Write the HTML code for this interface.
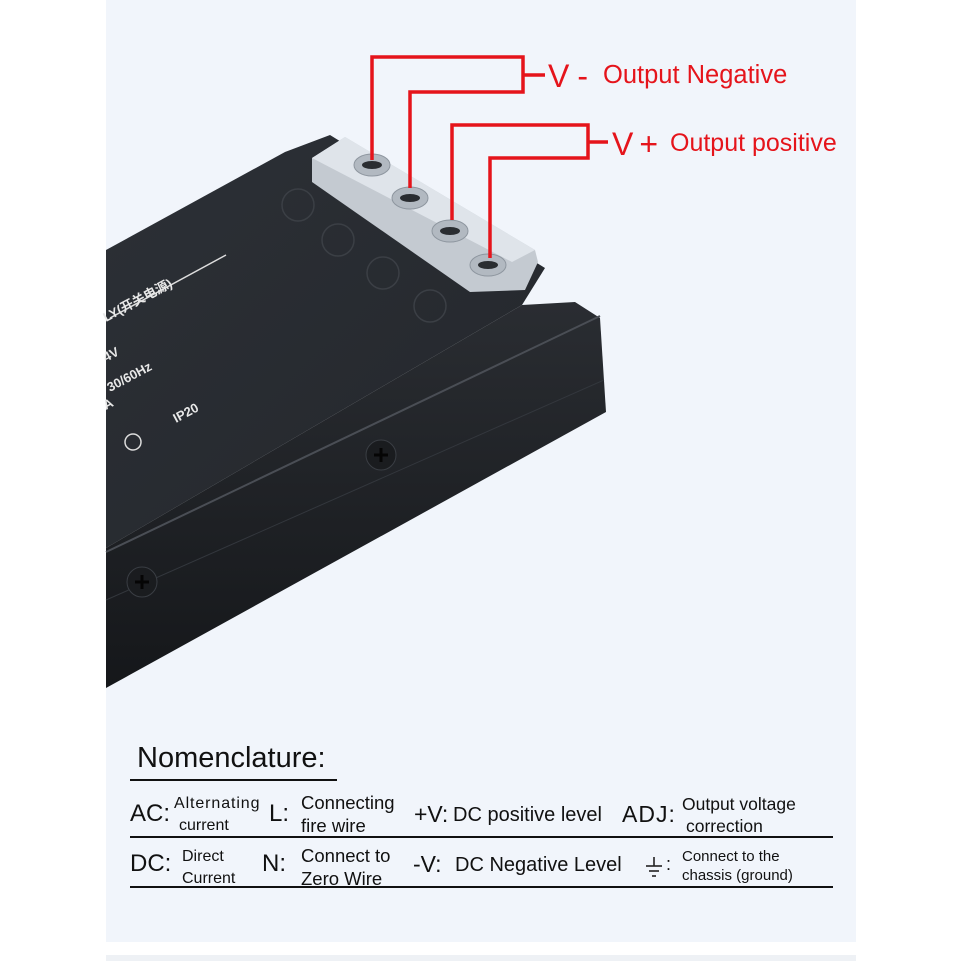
<!DOCTYPE html>
<html><head><meta charset="utf-8"><style>
html,body{margin:0;padding:0;background:#fff;}
#c{position:relative;width:961px;height:961px;overflow:hidden;background:#fff;font-family:"Liberation Sans","Noto Sans CJK SC",sans-serif;}
.t{position:absolute;white-space:nowrap;color:#111;line-height:1;}
.r{color:#e5141b;}
</style></head><body><div id="c">
<div style="position:absolute;left:106px;top:0;width:750px;height:942px;background:#f1f5fb"></div>
<div style="position:absolute;left:106px;top:955px;width:750px;height:6px;background:#eef1f5"></div>
<svg width="961" height="961" style="position:absolute;left:0;top:0">
<defs>
<linearGradient id="tg" x1="0" y1="0" x2="1" y2="1"><stop offset="0" stop-color="#2c3036"/><stop offset="1" stop-color="#24272c"/></linearGradient>
<linearGradient id="fg" x1="0" y1="0" x2="0" y2="1"><stop offset="0" stop-color="#2a2d32"/><stop offset="1" stop-color="#15171a"/></linearGradient>
</defs>
<polygon points="106,250 285,152 330,135 545,268 522,305 106,548" fill="url(#tg)"/>
<polygon points="106,548 522,305 575,302 600,318 606,412 106,688" fill="url(#fg)"/>
<line x1="106" y1="552" x2="600" y2="316" stroke="#4a4e55" stroke-width="2"/>
<line x1="106" y1="600" x2="604" y2="380" stroke="#33373d" stroke-width="1"/>
<polygon points="312,158 345,137 535,250 538,262 525,290 470,292 312,182" fill="#c4cad1"/>
<polygon points="312,158 345,137 535,250 512,262" fill="#dfe4ea"/>
<g fill="#b2b9c1" stroke="#8e969f">
<ellipse cx="372" cy="165" rx="18" ry="11"/><ellipse cx="410" cy="198" rx="18" ry="11"/>
<ellipse cx="450" cy="231" rx="18" ry="11"/><ellipse cx="488" cy="265" rx="18" ry="11"/></g>
<g fill="#2a2d31"><ellipse cx="372" cy="165" rx="10" ry="4"/><ellipse cx="410" cy="198" rx="10" ry="4"/><ellipse cx="450" cy="231" rx="10" ry="4"/><ellipse cx="488" cy="265" rx="10" ry="4"/></g>
<g fill="none" stroke="#3b3f45" stroke-width="1.5">
<circle cx="298" cy="205" r="16"/><circle cx="338" cy="240" r="16"/><circle cx="383" cy="273" r="16"/><circle cx="430" cy="306" r="16"/></g>
<line x1="110" y1="318" x2="226" y2="255" stroke="#ddd" stroke-width="1.5"/>
<g fill="#e8e8e8" font-family="Liberation Sans,Noto Sans CJK SC,sans-serif" font-weight="bold" font-size="13">
<text transform="translate(106,322) rotate(-28)">LY(开关电源)</text>
<text transform="translate(106,362) rotate(-28)">4V</text>
<text transform="translate(110,392) rotate(-28)">30/60Hz</text>
<text transform="translate(106,410) rotate(-28)">A</text>
<text transform="translate(176,423) rotate(-28)">IP20</text></g>
<circle cx="133" cy="442" r="8" fill="none" stroke="#ddd" stroke-width="1.5"/>
<g fill="#1a1c1f" stroke="#3a3e44"><circle cx="381" cy="455" r="15"/><circle cx="142" cy="582" r="15"/></g>
<g stroke="#050505" stroke-width="3"><path d="M374 455h14M381 448v14"/><path d="M135 582h14M142 575v14"/></g>
<g fill="none" stroke="#e5141b" stroke-width="3.5">
<path d="M372 160V57H523V92H410V188"/><path d="M523 75H545"/>
<path d="M452 220V125H588V158H490V258"/><path d="M588 142H608"/>
</g>
<g stroke="#111" stroke-width="2"><line x1="130" y1="780" x2="337" y2="780"/><line x1="130" y1="837" x2="833" y2="837"/><line x1="130" y1="887" x2="833" y2="887"/></g>
<g stroke="#222" stroke-width="1.6"><line x1="646" y1="866" x2="662" y2="866"/><line x1="649" y1="871" x2="659" y2="871"/><line x1="652" y1="876" x2="656" y2="876"/><line x1="654" y1="857" x2="654" y2="866"/></g>
</svg>
<div class="t r" style="left:548px;top:60px;font-size:32px">V<span style="margin-left:8px">-</span></div>
<div class="t r" style="left:603px;top:63px;font-size:25.5px">Output Negative</div>
<div class="t r" style="left:612px;top:128px;font-size:32px">V<span style="margin-left:6px">+</span></div>
<div class="t r" style="left:670px;top:131px;font-size:25px">Output positive</div>
<div class="t" style="left:137px;top:744px;font-size:29px">Nomenclature:</div>
<div class="t" style="left:130px;top:802px;font-size:24px">AC:</div>
<div class="t" style="left:174px;top:796px;font-size:16px;letter-spacing:0.9px">Alternating</div>
<div class="t" style="left:179px;top:818px;font-size:16px">current</div>
<div class="t" style="left:269px;top:802px;font-size:24px">L:</div>
<div class="t" style="left:301px;top:794px;font-size:18.5px">Connecting</div>
<div class="t" style="left:301px;top:817px;font-size:18.5px">fire wire</div>
<div class="t" style="left:414px;top:803px;font-size:23px">+V:</div>
<div class="t" style="left:453px;top:805px;font-size:20px">DC positive level</div>
<div class="t" style="left:622px;top:803px;font-size:23px;letter-spacing:1px">ADJ:</div>
<div class="t" style="left:682px;top:796px;font-size:17.5px">Output voltage</div>
<div class="t" style="left:686px;top:818px;font-size:17.5px">correction</div>
<div class="t" style="left:130px;top:852px;font-size:24px">DC:</div>
<div class="t" style="left:182px;top:849px;font-size:16px">Direct</div>
<div class="t" style="left:182px;top:871px;font-size:16px">Current</div>
<div class="t" style="left:262px;top:852px;font-size:24px">N:</div>
<div class="t" style="left:301px;top:847px;font-size:18.5px">Connect to</div>
<div class="t" style="left:301px;top:870px;font-size:18.5px">Zero Wire</div>
<div class="t" style="left:413px;top:853px;font-size:23px">-V:</div>
<div class="t" style="left:455px;top:855px;font-size:20px">DC Negative Level</div>
<div class="t" style="left:666px;top:855px;font-size:18px">:</div>
<div class="t" style="left:682px;top:849px;font-size:15px">Connect to the</div>
<div class="t" style="left:682px;top:868px;font-size:15px">chassis (ground)</div>
</div></body></html>
